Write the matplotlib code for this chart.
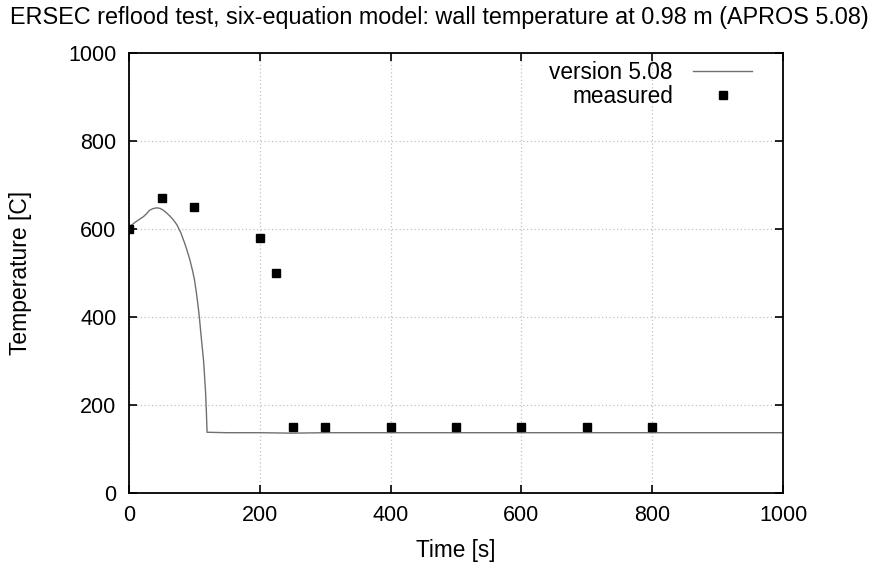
import numpy as np
import matplotlib.pyplot as plt

plt.rcParams['font.family'] = ['Liberation Sans', 'DejaVu Sans']

# calculated wall temperature (version 5.08)
t_calc = [0, 5, 10, 16, 22, 27, 31, 36, 42, 47, 52, 57, 62, 67, 73, 79, 85, 89, 93, 97, 100,
          103, 106, 108, 110, 112, 114, 115.5, 117, 118, 118.7, 119.3,
          150, 200, 250, 300, 400, 600, 800, 1000]
T_calc = [605, 610, 616, 622, 628, 635, 642, 646, 648, 647, 643, 637, 630, 622, 610, 592, 568, 550,
          530, 506, 485, 455, 420, 392, 360, 330, 300, 265, 230, 195, 165, 138,
          137, 137, 136, 137, 137, 137, 137, 137]

# measured values
t_meas = [0, 50, 100, 200, 225, 250, 300, 400, 500, 600, 700, 800]
T_meas = [600, 670, 650, 580, 500, 150, 150, 150, 150, 150, 150, 150]

fig = plt.figure(figsize=(8.79, 5.70), dpi=100)
ax = fig.add_axes([0.1468, 0.1351, 0.744, 0.772])

ax.plot(t_calc, T_calc, color='#707070', lw=1.0, label='version 5.08')
ax.plot(t_meas, T_meas, 's', color='black', ms=6, label='measured')

ax.set_xlim(0, 1000)
ax.set_ylim(0, 1000)
ax.set_xticks(np.arange(0, 1001, 200))
ax.set_yticks(np.arange(0, 1001, 200))
ax.grid(True, color='#c0c0c0', ls=(0, (1, 2)), lw=0.9)
ax.tick_params(direction='in', top=True, right=True, labelsize=15.5, length=6, width=1.2, pad=9)
for s in ax.spines.values():
    s.set_linewidth(1.3)

ax.set_xlabel('Time [s]', fontsize=16.3)
ax.set_ylabel('Temperature [C]', fontsize=16.5)
ax.xaxis.set_label_coords(0.5, -0.105)
ax.yaxis.set_label_coords(-0.148, 0.5)
fig.suptitle('ERSEC reflood test, six-equation model: wall temperature at 0.98 m (APROS 5.08)',
             fontsize=16.8, x=0.5, y=0.99)

leg = ax.legend(loc='upper right', frameon=False, markerfirst=False, fontsize=16.3,
                handlelength=2.6, handletextpad=0.9, borderaxespad=0.2, borderpad=0.15,
                labelspacing=0.05, bbox_to_anchor=(0.965, 1.0))
for txt in leg.get_texts():
    txt.set_ha('right')
leg._legend_box.align = 'right'

fig.savefig('out.png', dpi=100)
